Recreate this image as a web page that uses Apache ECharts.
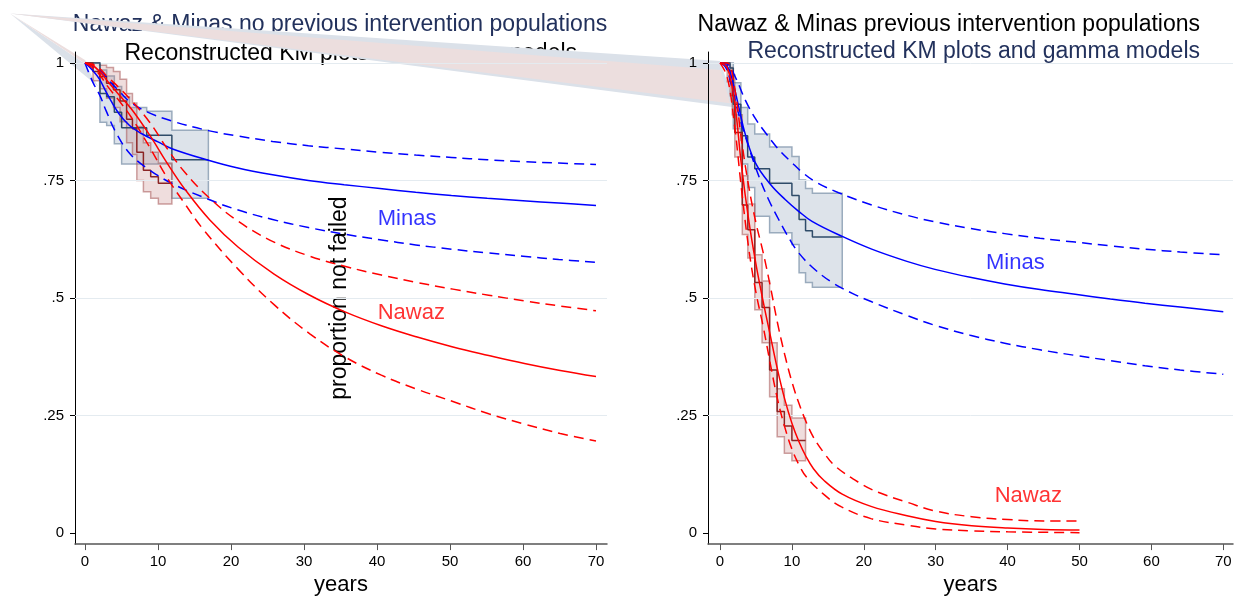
<!DOCTYPE html>
<html>
<head>
<meta charset="utf-8">
<script src="https://cdn.jsdelivr.net/npm/echarts@6/dist/echarts.min.js"></script>
<style>html,body{margin:0;padding:0;background:#fff}#c{width:1239px;height:601px}</style>
</head>
<body>
<div id="c"></div>
<script>
// ---------- tick labels ----------
const xTickValues = [0, 10, 20, 30, 40, 50, 60, 70];
const yTickValues = [0, 0.25, 0.5, 0.75, 1];
const yTickLabels = ['0', '.25', '.5', '.75', '1'];
const gridValues = [0.25, 0.5, 0.75, 1];

// ---------- left panel: no previous intervention ----------
const kmMinasL = [[0,1],[2.05,0.935],[2.97,0.928],[4.02,0.895],[5.02,0.862],[8.45,0.846],[11.9,0.794]];
const ciMinasUpL = [[0,1],[2.05,0.985],[2.97,0.972],[4.02,0.95],[5.02,0.928],[6.1,0.905],[8.45,0.897],[11.9,0.857]];
const ciMinasLoL = [[0,1],[2.05,0.874],[2.97,0.867],[4.02,0.828],[5.02,0.785],[11.9,0.712]];
const kmMinasEndL = 16.9;

const kmNawazL = [[0,1],[1.1,0.982],[2.0,0.971],[2.95,0.957],[3.9,0.943],[4.8,0.919],[5.7,0.88],[6.5,0.86],[7.1,0.81],[8.0,0.772],[9.0,0.758],[10.05,0.744]];
const ciNawazUpL = [[0,1],[1.1,1],[2.0,0.995],[2.95,0.99],[3.9,0.982],[4.8,0.965],[5.7,0.935],[6.5,0.915],[7.1,0.865],[8.0,0.83],[9.0,0.81],[10.05,0.787]];
const ciNawazLoL = [[0,1],[1.1,0.962],[2.0,0.945],[2.95,0.925],[3.9,0.905],[4.8,0.875],[5.7,0.83],[6.5,0.805],[7.1,0.75],[8.0,0.726],[9.0,0.712],[10.05,0.70]];
const kmNawazEndL = 11.9;

const fitMinasL = [[0,1],[1,0.985],[2,0.965],[3,0.935],[4.6,0.893],[6.1,0.867],[7.6,0.851],[10,0.832],[12,0.817],[16.9,0.793],[20.8,0.777],[25.7,0.762],[30.6,0.75],[35.5,0.741],[40.4,0.733],[45.3,0.725],[50.2,0.718],[55.1,0.712],[60,0.707],[64.9,0.702],[70,0.697]];
const fitMinasUpL = [[0,1],[2,0.985],[3.6,0.957],[4.8,0.938],[6.1,0.918],[8.5,0.896],[12,0.876],[16.9,0.856],[20.8,0.845],[25.7,0.833],[30.6,0.824],[35.5,0.817],[40.4,0.81],[45.3,0.804],[50.2,0.799],[55.1,0.794],[60,0.79],[64.9,0.787],[70,0.784]];
const fitMinasLoL = [[0,1],[1.1,0.958],[2,0.932],[2.9,0.898],[4.2,0.853],[6.1,0.808],[8.5,0.776],[12,0.743],[16.9,0.71],[20.8,0.688],[25.7,0.667],[30.6,0.65],[35.5,0.636],[40.4,0.624],[45.3,0.613],[50.2,0.604],[55.1,0.596],[60,0.589],[64.9,0.582],[70,0.576]];

const fitNawazL = [[0,1],[1,0.995],[2,0.982],[3.1,0.961],[4.5,0.935],[6.36,0.902],[8.8,0.848],[11.25,0.787],[13.7,0.731],[17.1,0.666],[21,0.608],[25.9,0.551],[30.8,0.506],[35.7,0.47],[40.6,0.441],[45.5,0.417],[50.4,0.396],[55.3,0.378],[60.2,0.361],[65.1,0.346],[70,0.333]];
const fitNawazUpL = [[0,1],[1,0.997],[2,0.988],[3.1,0.97],[4.5,0.95],[6.36,0.92],[8.8,0.875],[11.25,0.818],[13.7,0.767],[17.1,0.712],[21,0.663],[25.9,0.619],[30.8,0.589],[35.7,0.567],[40.6,0.549],[45.5,0.533],[50.4,0.519],[55.3,0.506],[60.2,0.494],[65.1,0.483],[70,0.473]];
const fitNawazLoL = [[0,1],[1,0.99],[2,0.975],[3.1,0.95],[4.5,0.923],[6.36,0.884],[8.8,0.822],[11.25,0.756],[13.7,0.7],[16.1,0.648],[21,0.561],[25.9,0.486],[30.8,0.424],[35.7,0.374],[40.6,0.336],[45.5,0.306],[50.4,0.28],[55.3,0.254],[60.2,0.232],[65.1,0.212],[70,0.196]];

// ---------- right panel: previous intervention ----------
const kmMinasR = [[0,1],[1.4,0.989],[1.85,0.912],[2.9,0.89],[3.1,0.845],[3.85,0.8],[4.83,0.775],[6.9,0.744],[10.0,0.718],[11.0,0.667],[11.9,0.643],[12.85,0.63]];
const ciMinasUpR = [[0,1],[1.4,1],[1.85,0.958],[2.9,0.905],[3.85,0.87],[4.83,0.849],[6.9,0.821],[10.0,0.801],[11.0,0.751],[11.9,0.733],[12.85,0.723]];
const ciMinasLoR = [[0,1],[1.4,0.97],[1.85,0.86],[2.9,0.835],[3.1,0.785],[3.85,0.735],[4.83,0.674],[6.9,0.639],[10.0,0.614],[11.0,0.554],[11.9,0.533],[12.85,0.523]];
const kmMinasEndR = 17;

const kmNawazR = [[0,1],[1.0,0.985],[1.4,0.96],[1.7,0.93],[2.06,0.852],[3.1,0.698],[3.87,0.645],[4.84,0.533],[5.85,0.48],[6.9,0.347],[7.95,0.259],[8.95,0.228],[10.0,0.197]];
const ciNawazUpR = [[0,1],[1.0,1],[1.4,0.99],[1.7,0.975],[2.06,0.89],[3.1,0.76],[3.87,0.70],[4.84,0.592],[5.85,0.536],[6.9,0.405],[7.95,0.307],[8.95,0.272],[10.0,0.245]];
const ciNawazLoR = [[0,1],[1.0,0.96],[1.4,0.93],[1.7,0.89],[2.06,0.80],[3.1,0.635],[3.87,0.585],[4.84,0.475],[5.85,0.405],[6.9,0.29],[7.95,0.205],[8.95,0.17],[10.0,0.154]];
const kmNawazEndR = 11.9;

const fitMinasR = [[0,1],[1,0.993],[1.67,0.966],[2.6,0.907],[3.52,0.848],[4.91,0.788],[7.0,0.742],[9.1,0.709],[10.9,0.685],[12.8,0.663],[17,0.631],[21.1,0.604],[26,0.578],[29.9,0.561],[34.8,0.544],[39.6,0.53],[44.5,0.518],[49.4,0.508],[54.3,0.498],[59.1,0.489],[64,0.481],[70,0.471]];
const fitMinasUpR = [[0,1],[1,0.998],[2.13,0.97],[3.52,0.921],[4.91,0.882],[6.3,0.852],[8.16,0.816],[10,0.788],[11.4,0.768],[13.3,0.747],[16.5,0.724],[21.1,0.698],[26,0.676],[29.9,0.662],[34.8,0.648],[39.6,0.637],[44.5,0.627],[49.4,0.619],[54.3,0.611],[59.1,0.604],[64,0.598],[70,0.592]];
const fitMinasLoR = [[0,1],[0.8,0.99],[1.44,0.961],[2.6,0.891],[4.0,0.821],[5.38,0.76],[6.77,0.709],[8.16,0.667],[9.8,0.622],[10.9,0.597],[12.8,0.566],[15.6,0.533],[18.4,0.51],[21.1,0.492],[26,0.463],[29.9,0.442],[34.8,0.421],[39.6,0.404],[44.5,0.39],[49.4,0.378],[54.3,0.367],[59.1,0.356],[64,0.347],[70,0.338]];

const fitNawazR = [[0,1],[1,0.99],[2,0.92],[3,0.78],[4,0.665],[5,0.572],[6,0.493],[7,0.42],[8,0.348],[9,0.285],[10,0.234],[11,0.194],[12,0.162],[13,0.137],[14.4,0.113],[17,0.083],[21,0.057],[26,0.037],[30,0.025],[35,0.016],[40,0.011],[45,0.008],[50,0.007]];
const fitNawazUpR = [[0,1],[1,1.0],[2,0.95],[3,0.835],[4,0.737],[5,0.66],[6,0.597],[7,0.525],[8,0.447],[9,0.38],[10,0.322],[11,0.275],[12,0.236],[13,0.204],[14.4,0.172],[16,0.143],[19.4,0.107],[22,0.087],[26,0.066],[30,0.047],[35,0.035],[40,0.029],[45,0.026],[50,0.026]];
const fitNawazLoR = [[0,1],[1,0.97],[2,0.87],[3,0.73],[4,0.605],[5,0.512],[6,0.44],[7,0.36],[8,0.285],[9,0.226],[10,0.179],[11,0.145],[12,0.12],[14.4,0.083],[16.9,0.056],[21,0.031],[26,0.017],[30,0.009],[35,0.005],[40,0.003],[50,0.001]];

// ---------- stray fill polygons (export artefact), data coordinates ----------
const bandApexL = [-10.27, 1.105];
const bandGreyL = [[0,0.998],[1.8,0.95]];
const bandPinkL = [[0,1.006],[0.8,0.99]];
const bandApexR = [-98.75, 1.105];
const bandGreyR = [[0,1.004],[2.2,0.905]];
const bandPinkR = [[0.1,0.985],[1.4,0.914]];

// ---------- text ----------
const curveNames = ['Minas', 'Nawaz'];
const labelAnchorsL = [[40.1, 0.669], [40.1, 0.469]];
const labelAnchorsR = [[37.0, 0.575], [38.2, 0.08]];

const FONT = "'Liberation Sans', Arial, Helvetica, sans-serif";
const BLUE = '#0000ff', RED = '#ff0000', NAVY = '#22315c';

function stepPts(steps, tEnd) {
  const pts = [];
  for (let i = 0; i < steps.length; i++) {
    const tNext = i + 1 < steps.length ? steps[i + 1][0] : tEnd;
    pts.push([steps[i][0], steps[i][1]]);
    pts.push([tNext, steps[i][1]]);
  }
  return pts;
}
function polySeries(gi, pts, fill, stroke, z, clip) {
  return {
    type: 'custom', xAxisIndex: gi, yAxisIndex: gi, data: [[0, 0]], z: z, silent: true, clip: !!clip,
    renderItem: function (p, api) {
      return { type: 'polygon', shape: { points: pts.map(function (d) { return api.coord(d); }) },
        style: { fill: fill, stroke: stroke, lineWidth: stroke ? 1.5 : 0 } };
    }
  };
}
function ciSeries(gi, up, lo, tEnd, fill, stroke) {
  const pts = stepPts(up, tEnd).concat(stepPts(lo, tEnd).reverse());
  return polySeries(gi, pts, fill, stroke, 4, true);
}
function kmSeries(gi, km, tEnd, color) {
  return { type: 'line', xAxisIndex: gi, yAxisIndex: gi, data: stepPts(km, tEnd), symbol: 'none',
    lineStyle: { color: color, width: 1.5 }, z: 5, silent: true };
}
function fitSeries(gi, data, color, dashed) {
  return { type: 'line', xAxisIndex: gi, yAxisIndex: gi, data: data, symbol: 'none', smooth: 0.4,
    lineStyle: { color: color, width: 1.5, type: dashed ? [10, 6] : 'solid' }, z: 6, silent: true };
}
function labelSeries(gi, anchor, name, color) {
  return { type: 'scatter', xAxisIndex: gi, yAxisIndex: gi, data: [anchor], symbolSize: 0, z: 7, silent: true,
    label: { show: true, formatter: name, position: 'right', distance: 0, color: color, fontSize: 22, fontFamily: FONT } };
}
function gridSeries(gi) {
  return { type: 'line', xAxisIndex: gi, yAxisIndex: gi, data: [], z: 1, silent: true,
    markLine: { silent: true, symbol: 'none', label: { show: false }, animation: false,
      lineStyle: { color: '#e4ebf0', type: 'solid', width: 1 },
      data: gridValues.map(function (v) { return { yAxis: v }; }) } };
}
function xAxis(gi, min, max) {
  return { type: 'value', gridIndex: gi, min: min, max: max, z: 3,
    axisLine: { show: true, onZero: false, lineStyle: { color: '#555', width: 1.5 } },
    axisTick: { show: true, length: 6, customValues: xTickValues, lineStyle: { color: '#555', width: 1 } },
    axisLabel: { customValues: xTickValues, color: '#000', fontSize: 15, margin: 10, fontFamily: FONT },
    splitLine: { show: false },
    name: 'years', nameLocation: 'middle', nameGap: 27,
    nameTextStyle: { fontSize: 22, color: '#000', fontFamily: FONT } };
}
function yAxis(gi, name) {
  const a = { type: 'value', gridIndex: gi, min: -0.0232, max: 1.0232, z: 3,
    axisLine: { show: true, onZero: false, lineStyle: { color: '#000', width: 1 } },
    axisTick: { show: true, length: 5, customValues: yTickValues, lineStyle: { color: '#000', width: 1 } },
    axisLabel: { customValues: yTickValues, color: '#000', fontSize: 15, margin: 11, fontFamily: FONT,
      formatter: function (v) { const i = yTickValues.indexOf(v); return i >= 0 ? yTickLabels[i] : ''; } },
    splitLine: { show: false } };
  if (name) {
    a.name = name; a.nameLocation = 'middle'; a.nameRotate = 90; a.nameGap = -276;
    a.nameTextStyle = { fontSize: 23, color: '#000', fontFamily: FONT };
  }
  return a;
}

const GREY_FILL = '#dde3ea', GREY_LINE = '#9aabbd';
const PINK_FILL = 'rgba(190,120,120,0.25)', PINK_LINE = 'rgba(165,85,85,0.55)';
const SLATE = '#2f4c69', DARKRED = '#8b2424';

const series = [
  gridSeries(0), gridSeries(1),
  // artefact wedges
  polySeries(0, [bandApexL].concat(bandGreyL), '#dbe1e9', null, 2, false),
  polySeries(0, [bandApexL].concat(bandPinkL), '#ecdede', null, 2, false),
  polySeries(1, [bandApexR].concat(bandGreyR), '#dbe1e9', null, 2, false),
  polySeries(1, [bandApexR].concat(bandPinkR), '#ecdede', null, 2, false),
  // KM confidence regions
  ciSeries(0, ciMinasUpL, ciMinasLoL, kmMinasEndL, GREY_FILL, GREY_LINE),
  ciSeries(0, ciNawazUpL, ciNawazLoL, kmNawazEndL, PINK_FILL, PINK_LINE),
  ciSeries(1, ciMinasUpR, ciMinasLoR, kmMinasEndR, GREY_FILL, GREY_LINE),
  ciSeries(1, ciNawazUpR, ciNawazLoR, kmNawazEndR, PINK_FILL, PINK_LINE),
  // KM curves
  kmSeries(0, kmMinasL, kmMinasEndL, SLATE),
  kmSeries(0, kmNawazL, kmNawazEndL, DARKRED),
  kmSeries(1, kmMinasR, kmMinasEndR, SLATE),
  kmSeries(1, kmNawazR, kmNawazEndR, DARKRED),
  // gamma models
  fitSeries(0, fitMinasL, BLUE, false), fitSeries(0, fitMinasUpL, BLUE, true), fitSeries(0, fitMinasLoL, BLUE, true),
  fitSeries(0, fitNawazL, RED, false), fitSeries(0, fitNawazUpL, RED, true), fitSeries(0, fitNawazLoL, RED, true),
  fitSeries(1, fitMinasR, BLUE, false), fitSeries(1, fitMinasUpR, BLUE, true), fitSeries(1, fitMinasLoR, BLUE, true),
  fitSeries(1, fitNawazR, RED, false), fitSeries(1, fitNawazUpR, RED, true), fitSeries(1, fitNawazLoR, RED, true),
  // curve labels
  labelSeries(0, labelAnchorsL[0], curveNames[0], BLUE), labelSeries(0, labelAnchorsL[1], curveNames[1], RED),
  labelSeries(1, labelAnchorsR[0], curveNames[0], BLUE), labelSeries(1, labelAnchorsR[1], curveNames[1], RED)
];

const chart = echarts.init(document.getElementById('c'), null, { renderer: 'canvas' });
chart.setOption({
  animation: false,
  backgroundColor: '#fff',
  textStyle: { fontFamily: FONT },
  grid: [
    { left: 75, top: 52, width: 532, height: 497 },
    { left: 708, top: 52, width: 525, height: 497 }
  ],
  xAxis: [xAxis(0, -1.37, 71.507), xAxis(1, -1.669, 71.35)],
  yAxis: [yAxis(0, 'proportion not failed'), yAxis(1, '')],
  graphic: [
    { type: 'text', x: 340, y: 25, z: 0, silent: true,
      style: { text: 'Nawaz & Minas no previous intervention populations', font: '23px ' + FONT, fill: NAVY, align: 'center', verticalAlign: 'middle' } },
    { type: 'text', x: 124.5, y: 54, z: 0, silent: true,
      style: { text: 'Reconstructed KM plots and gamma models', font: '23px ' + FONT, fill: '#000', align: 'left', verticalAlign: 'middle' } },
    { type: 'text', x: 1200, y: 25, z: 0, silent: true,
      style: { text: 'Nawaz & Minas previous intervention populations', font: '23px ' + FONT, fill: '#000', align: 'right', verticalAlign: 'middle' } },
    { type: 'text', x: 1200, y: 52, z: 0, silent: true,
      style: { text: 'Reconstructed KM plots and gamma models', font: '23px ' + FONT, fill: NAVY, align: 'right', verticalAlign: 'middle' } }
  ],
  series: series
});
</script>
</body>
</html>
